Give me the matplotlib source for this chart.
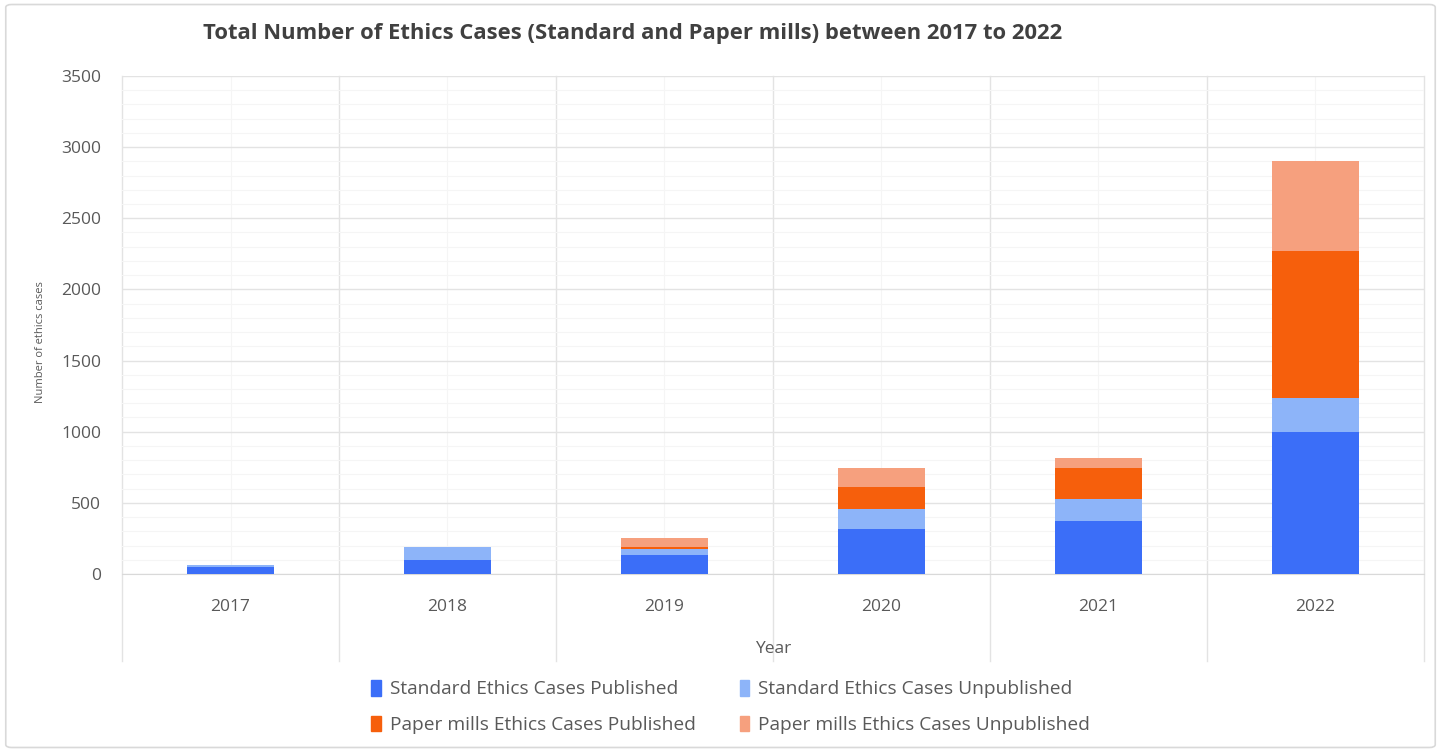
import matplotlib.pyplot as plt
import numpy as np
from matplotlib.lines import Line2D
from matplotlib.patches import FancyBboxPatch, Patch

years = ["2017", "2018", "2019", "2020", "2021", "2022"]
std_published = [47, 100, 133, 314, 373, 1000]
std_unpublished = [15, 92, 45, 141, 152, 240]
pm_published = [0, 0, 10, 159, 218, 1033]
pm_unpublished = [0, 0, 65, 129, 70, 630]

series_names = [
    "Standard Ethics Cases Published",
    "Standard Ethics Cases Unpublished",
    "Paper mills Ethics Cases Published",
    "Paper mills Ethics Cases Unpublished",
]
colors = ["#3b6ef8", "#8db4f9", "#f65f0c", "#f6a07e"]

TICK_GRAY = "#595959"

fig = plt.figure(figsize=(14.41, 7.52), dpi=100)
ax = fig.add_axes([0.0847, 0.2367, 0.9033, 0.6623])

x = np.arange(len(years))
bottom = np.zeros(len(years))
for vals, col in zip([std_published, std_unpublished, pm_published, pm_unpublished], colors):
    ax.bar(x, vals, width=0.4, bottom=bottom, color=col, zorder=3)
    bottom += np.asarray(vals)

ax.set_xlim(-0.5, len(years) - 0.5)
ax.set_ylim(0, 3500)
ax.set_yticks(np.arange(0, 3501, 500))
ax.set_yticks(np.arange(0, 3501, 100), minor=True)
ax.set_xticks(x)
ax.set_xticklabels(years)
ax.set_xticks(np.arange(-0.5, len(years), 1.0), minor=True)

ax.grid(axis="y", which="major", color="#e3e3e3", linewidth=1.0, zorder=0)
ax.grid(axis="y", which="minor", color="#f5f5f5", linewidth=0.8, zorder=0)
# faint lines through the category centres
for xi in x:
    ax.axvline(xi, color="#f5f5f5", linewidth=0.8, zorder=0)
# category separators run down past the tick labels, like the excel frame
for xb in np.arange(-0.5, len(years), 1.0):
    ax.add_line(Line2D([xb, xb], [-0.175, 1.0], transform=ax.get_xaxis_transform(),
                       color="#e3e3e3", linewidth=1.0, clip_on=False, zorder=0))

for s in ["top", "right", "left"]:
    ax.spines[s].set_visible(False)
ax.spines["bottom"].set_color("#d9d9d9")

ax.tick_params(axis="both", which="both", length=0)
ax.tick_params(axis="y", pad=15, labelsize=12.5, labelcolor=TICK_GRAY)
ax.tick_params(axis="x", pad=18, labelsize=12.5, labelcolor=TICK_GRAY)
for lab in ax.get_xticklabels() + ax.get_yticklabels():
    lab.set_family("Open Sans")

ax.set_xlabel("Year", fontsize=12.5, color=TICK_GRAY, family="Open Sans", labelpad=19)
fig.text(0.028, 0.545, "Number of ethics cases", rotation=90, fontsize=8,
         color=TICK_GRAY, ha="center", va="center", family="Open Sans")

fig.text(0.439, 0.956, "Total Number of Ethics Cases (Standard and Paper mills) between 2017 to 2022",
         fontsize=15.8, fontweight="bold", color="#404040", ha="center", va="center",
         family="Open Sans")

handles = [Patch(color=c) for c in colors]
order = [0, 2, 1, 3]
leg = fig.legend([handles[i] for i in order], [series_names[i] for i in order],
                 loc="center", bbox_to_anchor=(0.507, 0.06), ncol=2, frameon=False,
                 handlelength=0.5, handleheight=0.9, handletextpad=0.45,
                 columnspacing=2.3, labelspacing=0.9,
                 prop={"family": "Open Sans", "size": 13.8})
for t in leg.get_texts():
    t.set_color(TICK_GRAY)

# outer chart border
fig.patches.append(FancyBboxPatch((0.004, 0.006), 0.992, 0.988,
                                  boxstyle="round,pad=0,rounding_size=0.004",
                                  transform=fig.transFigure, fill=False,
                                  edgecolor="#d9d9d9", linewidth=1.2))

fig.savefig("out.png", dpi=100)
